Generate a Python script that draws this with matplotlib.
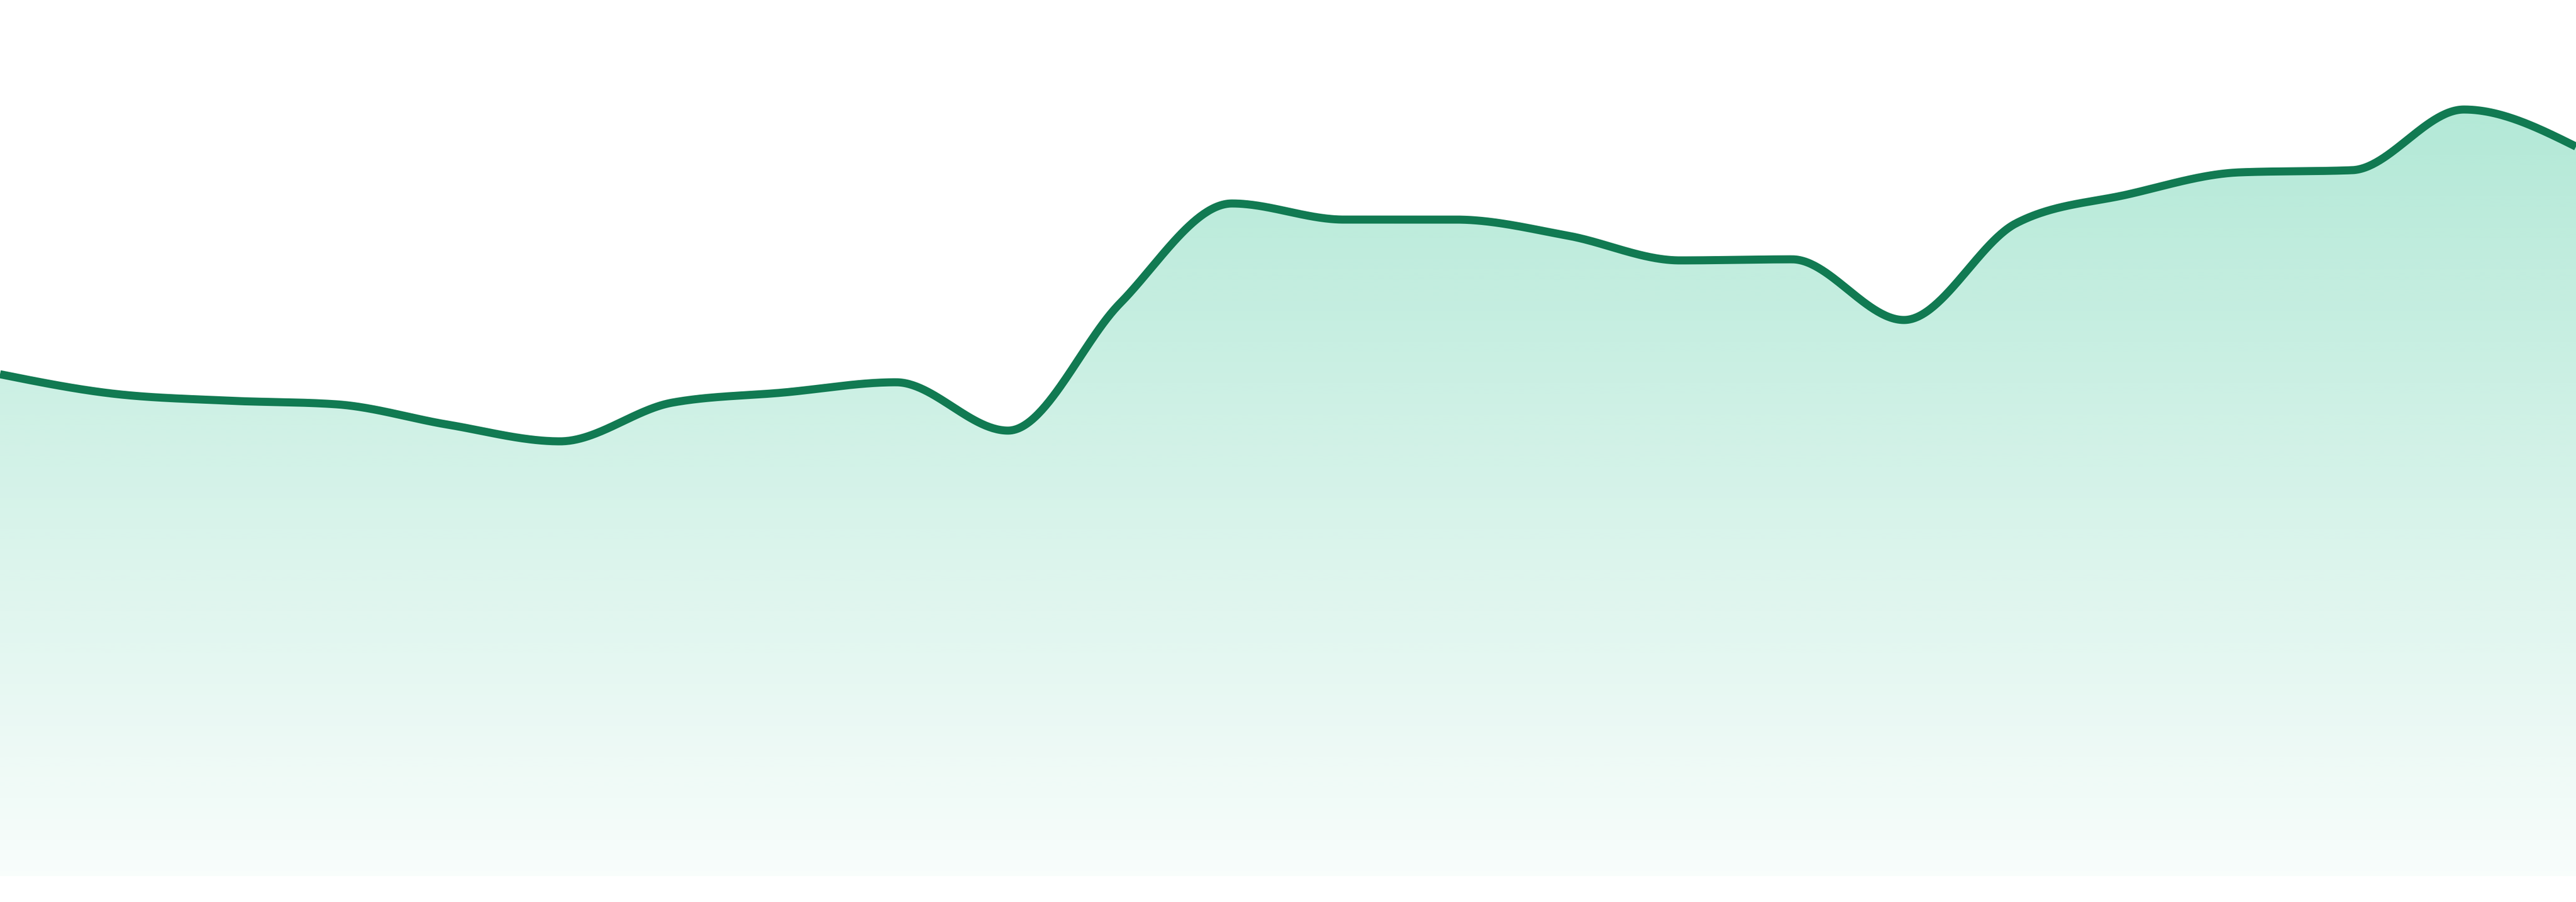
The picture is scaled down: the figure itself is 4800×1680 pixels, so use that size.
import numpy as np
import matplotlib
matplotlib.use("Agg")
import matplotlib.pyplot as plt

# values (one point per step, no axes shown)
steps = list(range(24))
values = [93.5, 89.9, 88.6, 87.9, 84.1, 81.0, 88.2, 90.1, 92.0, 83.0, 106.7, 125.3,
          122.3, 122.3, 119.3, 114.7, 114.9, 103.6, 121.6, 127.0, 131.1, 131.5, 142.8, 135.9]

line_color = "#117a52"
fill_rgb = (16 / 255, 185 / 255, 129 / 255)


def monotone_x(x, y, n=60):
    # same idea as d3.curveMonotoneX
    x = np.asarray(x, float)
    y = np.asarray(y, float)
    h = np.diff(x)
    s = np.diff(y) / h
    t = np.zeros_like(y)
    for i in range(1, len(y) - 1):
        s0, s1 = s[i - 1], s[i]
        p = (s0 * h[i] + s1 * h[i - 1]) / (h[i - 1] + h[i])
        t[i] = (np.sign(s0) + np.sign(s1)) * min(abs(s0), abs(s1), 0.5 * abs(p))
    t[0] = (3 * s[0] - t[1]) / 2
    t[-1] = (3 * s[-1] - t[-2]) / 2
    xs, ys = [], []
    for i in range(len(h)):
        u = np.linspace(0, 1, n, endpoint=(i == len(h) - 1))
        h00 = 2 * u**3 - 3 * u**2 + 1
        h10 = u**3 - 2 * u**2 + u
        h01 = -2 * u**3 + 3 * u**2
        h11 = u**3 - u**2
        xs.append(x[i] + u * h[i])
        ys.append(h00 * y[i] + h10 * h[i] * t[i] + h01 * y[i + 1] + h11 * h[i] * t[i + 1])
    return np.concatenate(xs), np.concatenate(ys)


xs, ys = monotone_x(steps, values)

fig = plt.figure(figsize=(16, 5.6), dpi=300)
ax = fig.add_axes([0, 48 / 1680, 1, 1 - 48 / 1680])
ymax = 163.2
ax.set_xlim(steps[0], steps[-1])
ax.set_ylim(0, ymax)
ax.axis("off")

# vertical gradient under the curve
grad = np.zeros((256, 2, 4))
alpha = np.linspace(0.36, 0.03, 256)
grad[:, :, 0] = fill_rgb[0]
grad[:, :, 1] = fill_rgb[1]
grad[:, :, 2] = fill_rgb[2]
grad[:, :, 3] = alpha[:, None]
poly = ax.fill_between(xs, ys, 0, facecolor="none", edgecolor="none")
img = ax.imshow(grad, extent=[steps[0], steps[-1], 0, ymax], aspect="auto",
                origin="upper", interpolation="bilinear", zorder=1)
img.set_clip_path(poly.get_paths()[0], transform=ax.transData)

ax.plot(xs, ys, color=line_color, lw=3.6, zorder=3, solid_capstyle="butt",
        solid_joinstyle="round")

fig.savefig("out.png", dpi=300, facecolor="white")
